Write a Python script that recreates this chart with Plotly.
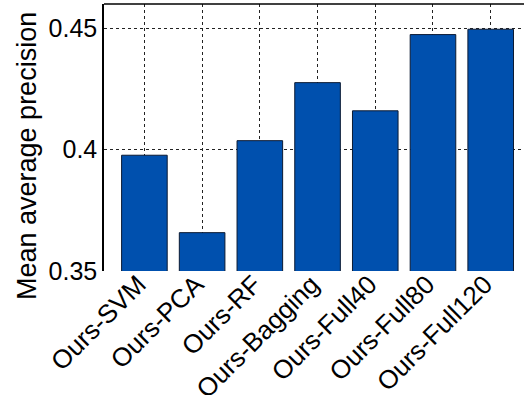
import plotly.graph_objects as go

# Mean average precision per method variant
methods = ["Ours-SVM", "Ours-PCA", "Ours-RF", "Ours-Bagging",
           "Ours-Full40", "Ours-Full80", "Ours-Full120"]
mean_ap = [0.3977, 0.3658, 0.4037, 0.4276, 0.4160, 0.4474, 0.4496]

y_ticks = [0.35, 0.40, 0.45]
y_tick_text = ["0.35", "0.4", "0.45"]

FONT = "Liberation Sans, Arial, Helvetica, sans-serif"
W, H = 524, 395
ML, MR, MT, MB = 104, 0, 4, 124

fig = go.Figure(
    go.Bar(
        x=list(range(len(methods))),
        y=mean_ap,
        base=0,
        width=0.79,
        marker=dict(color="#0050AE", line=dict(color="#0b1a33", width=1)),
    )
)

fig.update_layout(
    width=W,
    height=H,
    margin=dict(l=ML, r=MR, t=MT, b=MB, autoexpand=False),
    paper_bgcolor="white",
    plot_bgcolor="white",
    showlegend=False,
    font=dict(family=FONT, color="black"),
    xaxis=dict(
        range=[-0.7, 6.577],
        tickmode="array",
        tickvals=list(range(len(methods))),
        ticktext=methods,
        tickangle=-45,
        tickfont=dict(size=26),
        ticklabelshift=-6,
        ticklabelstandoff=-8,
        automargin=False,
        showline=False,
        ticks="",
        showgrid=True,
        gridcolor="#222222",
        griddash="3px,3px",
        gridwidth=1,
        zeroline=False,
    ),
    yaxis=dict(
        range=[0.35, 0.46],
        tickmode="array",
        tickvals=y_ticks,
        ticktext=y_tick_text,
        tickfont=dict(size=25),
        automargin=False,
        showline=True,
        linecolor="black",
        linewidth=1.5,
        mirror=False,
        ticks="",
        showgrid=True,
        gridcolor="#222222",
        griddash="3px,3px",
        gridwidth=1,
        zeroline=False,
    ),
)

# top border of the axes box
fig.add_shape(type="line", xref="paper", yref="paper", x0=0, x1=1, y0=1, y1=1,
              line=dict(color="black", width=1.5))

# y-axis label
fig.add_annotation(
    text="Mean average precision",
    xref="paper", yref="paper",
    x=(27 - ML) / (W - ML - MR), y=(271 - 156) / (H - MT - MB),
    xanchor="center", yanchor="middle",
    textangle=-90, showarrow=False,
    font=dict(size=27, family=FONT, color="black"),
)

fig.write_html("out.html")
